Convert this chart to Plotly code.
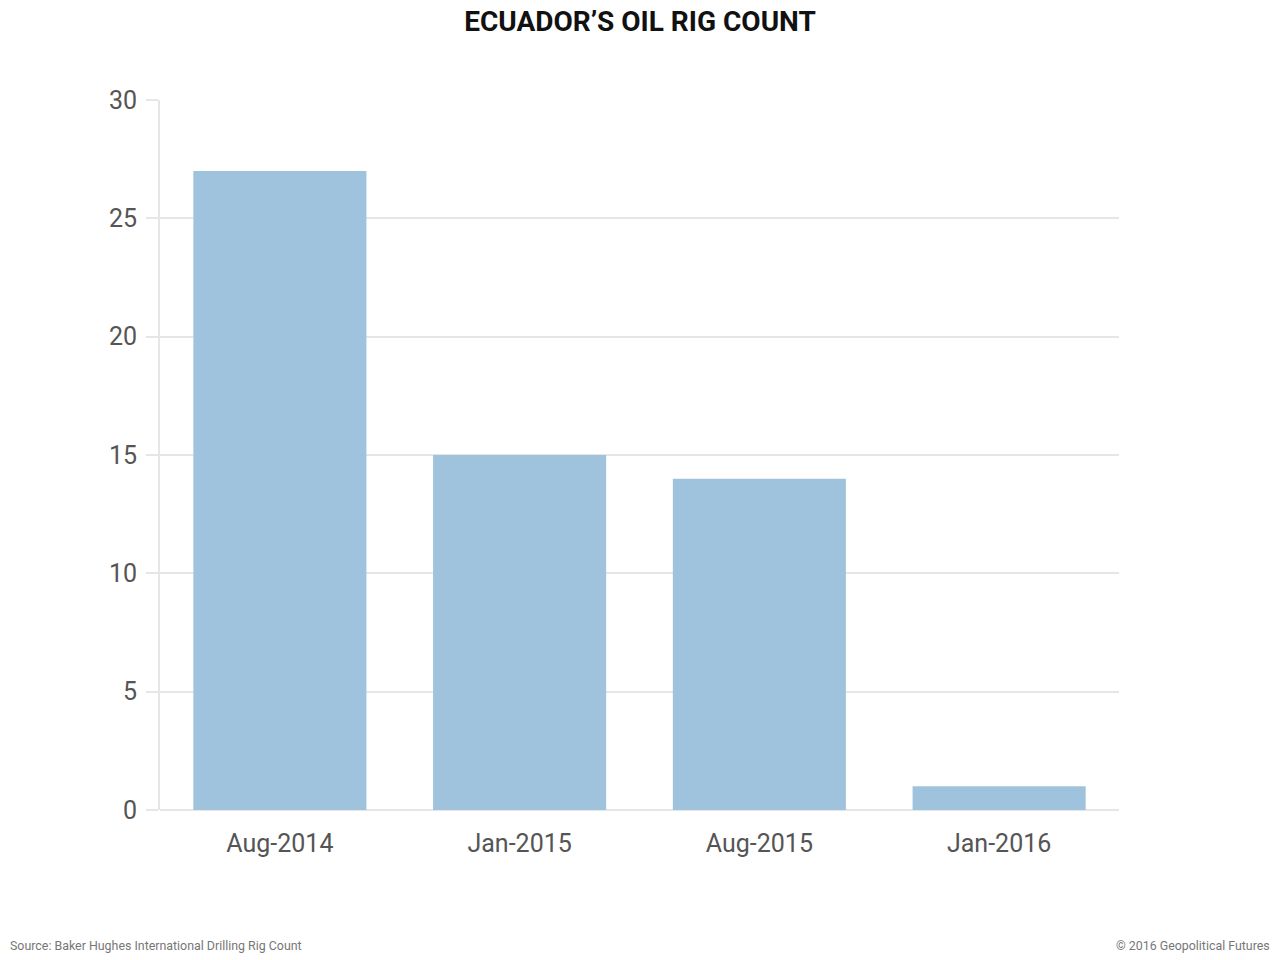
import plotly.graph_objects as go

categories = ["Aug-2014", "Jan-2015", "Aug-2015", "Jan-2016"]
rig_count = [27, 15, 14, 1]
y_ticks = [0, 5, 10, 15, 20, 25, 30]

GRID = "#e6e6e6"
FONT = "Roboto, 'Roboto Condensed', 'Liberation Sans Narrow', sans-serif"

fig = go.Figure(
    go.Bar(x=categories, y=rig_count, marker=dict(color="#a0c3dd", line=dict(width=0)),
           hoverinfo="x+y")
)

fig.update_layout(
    width=1280, height=960,
    margin=dict(l=160, r=161, t=100, b=150),
    paper_bgcolor="white", plot_bgcolor="white",
    bargap=0.278,
    showlegend=False,
    font=dict(family=FONT, color="#555555"),
    title=dict(text="<b>ECUADOR’S OIL RIG COUNT</b>", x=0.5, xanchor="center",
               y=1 - 21/960, yanchor="middle",
               font=dict(family=FONT, size=28, color="#111111")),
    annotations=[
        dict(text="Source: Baker Hughes International Drilling Rig Count", xref="paper", yref="paper",
             x=-152/959, y=-135/710, xanchor="left", yanchor="middle", showarrow=False,
             font=dict(family=FONT, size=12.4, color="#777777")),
        dict(text="© 2016 Geopolitical Futures", xref="paper", yref="paper",
             x=1 + 153/959, y=-135/710, xanchor="right", yanchor="middle", showarrow=False,
             font=dict(family=FONT, size=12.4, color="#777777")),
    ],
)

fig.update_xaxes(
    showgrid=False, showline=False, ticks="", zeroline=False,
    tickfont=dict(size=25, color="#555555"),
    ticklabelstandoff=16,
)
fig.update_yaxes(
    range=[0, 30], tickvals=y_ticks, showgrid=True, gridcolor=GRID, gridwidth=2,
    zeroline=True, zerolinecolor=GRID, zerolinewidth=2,
    showline=True, linecolor=GRID, linewidth=2,
    ticks="outside", ticklen=12, tickcolor=GRID, tickwidth=2,
    tickfont=dict(size=25, color="#555555"),
    ticklabelstandoff=4,
)

fig.write_html("out.html", config={"displayModeBar": False},
               post_script="document.body.style.margin='0';")
